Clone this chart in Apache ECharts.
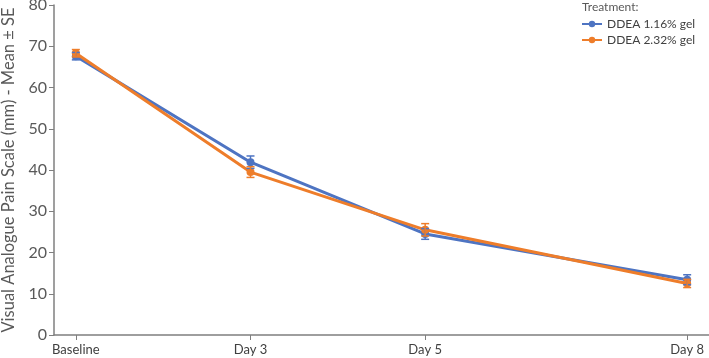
<!DOCTYPE html>
<html><head><meta charset="utf-8">
<script src="https://cdn.jsdelivr.net/npm/echarts@6/dist/echarts.min.js"></script>
<style>html,body{margin:0;padding:0;background:#fff}#c{width:709px;height:358px}</style>
</head><body><div id="c"></div>
<script>
var days = [1, 3, 5, 8];
var tickLabels = ['Baseline', 'Day 3', 'Day 5', 'Day 8'];
var seriesNames = ['DDEA 1.16% gel', 'DDEA 2.32% gel'];
var meanLow = [67.6, 41.9, 24.5, 13.4];
var seLow = [0.9, 1.5, 1.3, 1.2];
var meanHigh = [68.3, 39.5, 25.5, 12.5];
var seHigh = [0.9, 1.3, 1.5, 1.0];
var colors = ['#4E74C2', '#EE7D2A'];

function pts(m){ return days.map(function(d,i){ return [d, m[i]]; }); }
function errs(m, s){ return days.map(function(d,i){ return [d, m[i]-s[i], m[i]+s[i]]; }); }
function errSeries(name, data, color, z){
  return {
    type: 'custom', name: name, data: data, z: z, silent: true,
    renderItem: function(params, api){
      var x = api.value(0);
      var lo = api.coord([x, api.value(1)]);
      var hi = api.coord([x, api.value(2)]);
      var w = 4;
      var st = {stroke: color, lineWidth: 1.5};
      return {type: 'group', children: [
        {type:'line', shape:{x1:lo[0], y1:lo[1], x2:hi[0], y2:hi[1]}, style: st},
        {type:'line', shape:{x1:lo[0]-w, y1:lo[1], x2:lo[0]+w, y2:lo[1]}, style: st},
        {type:'line', shape:{x1:hi[0]-w, y1:hi[1], x2:hi[0]+w, y2:hi[1]}, style: st}
      ]};
    },
    encode: {x: 0, y: [1, 2]}
  };
}
var font = 'Lato, "Open Sans", sans-serif';
var chart = echarts.init(document.getElementById('c'));
chart.setOption({
  animation: false,
  textStyle: {fontFamily: font},
  grid: {left: 54, right: 0, top: 5, bottom: 23, containLabel: false, outerBoundsMode: 'none'},
  title: {text: 'Treatment:', left: 582, top: 1, padding: 0, textStyle: {fontSize: 12, fontWeight: 'normal', color: '#595959', fontFamily: font}},
  legend: {
    data: seriesNames, orient: 'vertical', left: 576, top: 13, itemGap: 4,
    itemWidth: 20, itemHeight: 8,
    textStyle: {fontSize: 12, color: '#404040', fontFamily: font}
  },
  xAxis: {
    type: 'value', min: 0.75, max: 8.25,
    splitLine: {show: false},
    axisLine: {lineStyle: {color: '#7f7f7f', width: 1.5}},
    axisTick: {show: true, customValues: days, length: 5, lineStyle: {color: '#7f7f7f'}},
    axisLabel: {customValues: days, color: '#404040', fontSize: 13, margin: 8,
      formatter: function(v){ var i = days.indexOf(v); return i >= 0 ? tickLabels[i] : ''; }}
  },
  yAxis: {
    type: 'value', min: 0, max: 80, interval: 10,
    name: 'Visual Analogue Pain Scale (mm) - Mean \u00b1 SE',
    nameLocation: 'middle', nameGap: 36, nameRotate: 90,
    nameTextStyle: {fontSize: 16.5, color: '#595959', fontFamily: font},
    splitLine: {show: false},
    axisLine: {show: true, lineStyle: {color: '#7f7f7f', width: 1.5}},
    axisTick: {show: true, length: 5, lineStyle: {color: '#7f7f7f'}},
    axisLabel: {color: '#595959', fontSize: 16, margin: 7}
  },
  series: [
    {name: seriesNames[0], type: 'line', data: pts(meanLow), color: colors[0],
     symbol: 'circle', symbolSize: 8, lineStyle: {width: 3}, z: 3},
    {name: seriesNames[1], type: 'line', data: pts(meanHigh), color: colors[1],
     symbol: 'circle', symbolSize: 8, lineStyle: {width: 3}, z: 4},
    errSeries(seriesNames[0], errs(meanLow, seLow), colors[0], 5),
    errSeries(seriesNames[1], errs(meanHigh, seHigh), colors[1], 6)
  ]
});
</script></body></html>
